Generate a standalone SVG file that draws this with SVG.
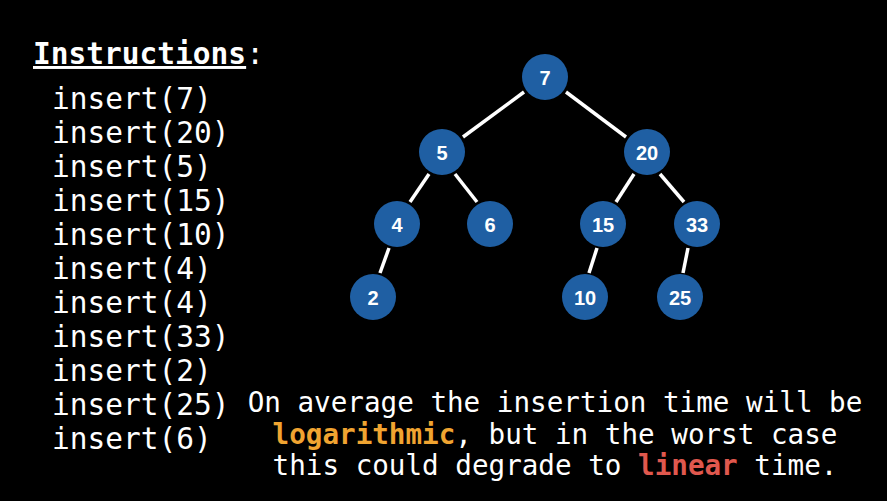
<svg xmlns="http://www.w3.org/2000/svg" width="887" height="501" viewBox="0 0 887 501">
<style>
.mono{font-family:"DejaVu Sans Mono","Liberation Mono",monospace;fill:#ffffff}
.list{font-size:29.5px}
.node circle{fill:#1f5fa3}
.node text{font-family:"Liberation Sans",Arial,sans-serif;font-weight:bold;font-size:20px;fill:#ffffff;text-anchor:middle}
.edge{stroke:#ffffff;stroke-width:3.5;stroke-linecap:butt}
</style>
<rect width="887" height="501" fill="#000000"/>
<g id="instructions">
<text class="mono" x="33" y="64" font-size="29.5"><tspan font-weight="bold" text-decoration="underline">Instructions</tspan>:</text>
<text class="mono list" x="52" y="109">insert(7)</text>
<text class="mono list" x="52" y="143">insert(20)</text>
<text class="mono list" x="52" y="177">insert(5)</text>
<text class="mono list" x="52" y="211">insert(15)</text>
<text class="mono list" x="52" y="245">insert(10)</text>
<text class="mono list" x="52" y="279">insert(4)</text>
<text class="mono list" x="52" y="313">insert(4)</text>
<text class="mono list" x="52" y="347">insert(33)</text>
<text class="mono list" x="52" y="381">insert(2)</text>
<text class="mono list" x="52" y="415">insert(25)</text>
<text class="mono list" x="52" y="449">insert(6)</text>
</g>
<g id="connectors">
<line class="edge" x1="524" y1="92" x2="463" y2="137"/>
<line class="edge" x1="566" y1="92" x2="626" y2="137"/>
<line class="edge" x1="429" y1="174" x2="410" y2="202"/>
<line class="edge" x1="455" y1="174" x2="477" y2="202"/>
<line class="edge" x1="634" y1="174" x2="616" y2="202"/>
<line class="edge" x1="660" y1="174" x2="684" y2="202"/>
<line class="edge" x1="389" y1="248" x2="380" y2="273"/>
<line class="edge" x1="597" y1="248" x2="589" y2="273"/>
<line class="edge" x1="688" y1="248" x2="683" y2="273"/>
</g>
<g id="n7" class="node"><circle cx="545" cy="77" r="23"/><text x="545" y="85">7</text></g>
<g id="n5" class="node"><circle cx="442" cy="152" r="23"/><text x="442" y="160">5</text></g>
<g id="n20" class="node"><circle cx="647" cy="152" r="23"/><text x="647" y="160">20</text></g>
<g id="n4" class="node"><circle cx="397" cy="224" r="23"/><text x="397" y="232">4</text></g>
<g id="n6" class="node"><circle cx="490" cy="224" r="23"/><text x="490" y="232">6</text></g>
<g id="n15" class="node"><circle cx="603" cy="224" r="23"/><text x="603" y="232">15</text></g>
<g id="n33" class="node"><circle cx="697" cy="224" r="23"/><text x="697" y="232">33</text></g>
<g id="n2" class="node"><circle cx="373" cy="297" r="23"/><text x="373" y="305">2</text></g>
<g id="n10" class="node"><circle cx="585" cy="297" r="23"/><text x="585" y="305">10</text></g>
<g id="n25" class="node"><circle cx="680" cy="297" r="23"/><text x="680" y="305">25</text></g>
<g id="caption" font-size="27.6">
<text class="mono" x="555" y="412" text-anchor="middle">On average the insertion time will be</text>
<text class="mono" x="555" y="444" text-anchor="middle"><tspan font-weight="bold" fill="#f0a431">logarithmic</tspan>, but in the worst case</text>
<text class="mono" x="555" y="475" text-anchor="middle">this could degrade to <tspan font-weight="bold" fill="#e0584e">linear</tspan> time.</text>
</g>
</svg>
